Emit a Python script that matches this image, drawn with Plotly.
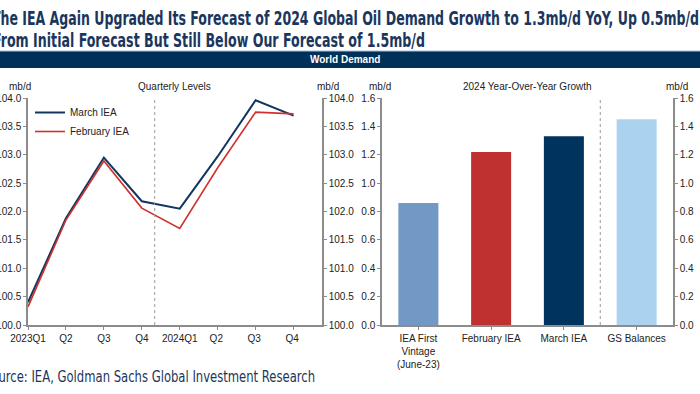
import plotly.graph_objects as go

W, H = 700, 394

quarters = ["2023Q1", "Q2", "Q3", "Q4", "2024Q1", "Q2 ", "Q3 ", "Q4 "]
march_iea = [100.40, 101.88, 102.95, 102.18, 102.05, 102.97, 103.96, 103.69]
february_iea = [100.32, 101.85, 102.89, 102.06, 101.70, 102.77, 103.75, 103.72]

bar_labels = ["IEA First<br>Vintage<br>(June-23)", "February IEA", "March IEA", "GS Balances"]
bar_values = [0.86, 1.22, 1.33, 1.45]
bar_colors = ["#7299c6", "#bf3131", "#00335e", "#abd3f0"]

left_ticks = [100.0, 100.5, 101.0, 101.5, 102.0, 102.5, 103.0, 103.5, 104.0]
right_ticks = [0.0, 0.2, 0.4, 0.6, 0.8, 1.0, 1.2, 1.4, 1.6]

RED = "#d0312d"
AX = "#8c8c8c"
TXT = "#222222"


def px(x):
    return x / W


def py(y):
    return 1 - y / H


fig = go.Figure()
xi = list(range(len(quarters)))
fig.add_trace(go.Scatter(x=xi, y=march_iea, mode="lines", name="March IEA",
                         line=dict(color="#11365f", width=2), xaxis="x", yaxis="y"))
fig.add_trace(go.Scatter(x=xi, y=february_iea, mode="lines", name="February IEA",
                         line=dict(color=RED, width=1.6), xaxis="x", yaxis="y"))
fig.add_trace(go.Scatter(x=[0], y=[100], mode="markers", marker=dict(opacity=0),
                         showlegend=False, hoverinfo="skip", xaxis="x", yaxis="y2"))

bx = list(range(len(bar_labels)))
fig.add_trace(go.Bar(x=bx, y=bar_values, marker=dict(color=bar_colors, line=dict(width=0)),
                     width=0.55, showlegend=False, xaxis="x2", yaxis="y3"))
fig.add_trace(go.Scatter(x=[0], y=[0], mode="markers", marker=dict(opacity=0),
                         showlegend=False, hoverinfo="skip", xaxis="x2", yaxis="y4"))

font_tick = dict(family="Liberation Sans, Arial, sans-serif", size=10, color=TXT)
yl_common = dict(showgrid=False, zeroline=False, showline=True, linecolor=AX, linewidth=1.5,
                 ticks="outside", ticklen=3, tickcolor=AX, tickfont=font_tick)

x0L, x1L = 28, 322
yt, yb = 98, 325
x0R, x1R = 382, 673

fig.update_layout(
    width=W, height=H, margin=dict(l=0, r=0, t=0, b=0, autoexpand=False),
    paper_bgcolor="white", plot_bgcolor="white",
    showlegend=True,
    legend=dict(x=px(30), y=py(98), xanchor="left", yanchor="top", bgcolor="rgba(0,0,0,0)",
                font=dict(family="Liberation Sans, Arial, sans-serif", size=10, color=TXT),
                tracegroupgap=0, itemwidth=30),
    xaxis=dict(domain=[px(x0L), px(x1L)], range=[0, 7.75], tickvals=xi, ticktext=quarters,
               showgrid=False, zeroline=False, showline=True, linecolor=AX, linewidth=1.5,
               ticks="outside", ticklen=3, tickcolor=AX, tickfont=font_tick, anchor="y"),
    yaxis=dict(domain=[py(yb), py(yt)], range=[100, 104], tickvals=left_ticks,
               tickformat=".1f", anchor="x", **yl_common),
    yaxis2=dict(domain=[py(yb), py(yt)], range=[100, 104], tickvals=left_ticks,
                tickformat=".1f", overlaying="y", side="right", anchor="x", **yl_common),
    xaxis2=dict(domain=[px(x0R), px(x1R)], range=[-0.5, 3.5], tickvals=bx, ticktext=bar_labels,
                showgrid=False, zeroline=False, showline=True, linecolor=AX, linewidth=1.5,
                ticks="outside", ticklen=3, tickcolor=AX, tickson="boundaries",
                tickfont=font_tick, anchor="y3"),
    yaxis3=dict(domain=[py(yb), py(yt)], range=[0, 1.6], tickvals=right_ticks,
                tickformat=".1f", anchor="x2", **yl_common),
    yaxis4=dict(domain=[py(yb), py(yt)], range=[0, 1.6], tickvals=right_ticks,
                tickformat=".1f", overlaying="y3", side="right", anchor="x2", **yl_common),
)

fig.add_shape(type="line", xref="x", yref="y domain", x0=3.34, x1=3.34, y0=0, y1=1,
              line=dict(color="#999999", width=1, dash="dot"))
fig.add_shape(type="line", xref="x2", yref="y3 domain", x0=2.5, x1=2.5, y0=0, y1=1,
              line=dict(color="#999999", width=1, dash="dot"))

fig.add_shape(type="rect", xref="paper", yref="paper", x0=0, x1=1, y0=py(68), y1=py(51),
              fillcolor="#003159", line=dict(width=0), layer="below")
fig.add_shape(type="line", xref="paper", yref="paper", x0=0, x1=1, y0=py(51), y1=py(51),
              line=dict(color="#a9bfd6", width=1))

title_font = dict(family="DejaVu Sans Condensed, Liberation Sans, sans-serif",
                  size=19, color="#1b365d")
small = dict(family="Liberation Sans, Arial, sans-serif", size=10, color=TXT)
ann = [
    dict(text="<b>The IEA Again Upgraded Its Forecast of 2024 Global Oil Demand Growth to 1.3mb/d YoY, Up 0.5mb/d</b>",
         x=px(-10), y=py(18), xanchor="left", align="left", yanchor="middle", font=title_font),
    dict(text="<b>From Initial Forecast But Still Below Our Forecast of 1.5mb/d</b>",
         x=px(-9), y=py(40), xanchor="left", align="left", yanchor="middle", font=title_font),
    dict(text="<b>World Demand</b>", x=px(345), y=py(59.5), xanchor="center", yanchor="middle",
         font=dict(family="Liberation Sans, Arial, sans-serif", size=10, color="white")),
    dict(text="Source: IEA, Goldman Sachs Global Investment Research",
         x=px(-18), y=py(377), xanchor="left", align="left", yanchor="middle",
         font=dict(family="DejaVu Sans Condensed, Liberation Sans, sans-serif", size=15, color="#1b365d")),
    dict(text="Quarterly Levels", x=px(174), y=py(86), xanchor="center", yanchor="middle", font=small),
    dict(text="2024 Year-Over-Year Growth", x=px(527), y=py(86), xanchor="center", yanchor="middle", font=small),
    dict(text="mb/d", x=px(20), y=py(86), xanchor="center", yanchor="middle", font=small),
    dict(text="mb/d", x=px(328), y=py(86), xanchor="center", yanchor="middle", font=small),
    dict(text="mb/d", x=px(380), y=py(86), xanchor="center", yanchor="middle", font=small),
    dict(text="mb/d", x=px(677), y=py(86), xanchor="center", yanchor="middle", font=small),
]
for a in ann:
    a.update(xref="paper", yref="paper", showarrow=False)
    fig.add_annotation(**a)

post = """
document.body.style.margin = '0';
document.body.style.overflow = 'hidden';
function fitTexts() {
  document.querySelectorAll('text.annotation-text').forEach(function (t) {
    var s = t.textContent || '';
    var L = null;
    if (s.indexOf('The IEA Again') === 0) L = 707;
    else if (s.indexOf('From Initial') === 0) L = 432;
    else if (s.indexOf('Source:') === 0) L = 331;
    if (L) { t.setAttribute('textLength', L); t.setAttribute('lengthAdjust', 'spacingAndGlyphs'); }
  });
}
fitTexts();
var gd = document.getElementById('{plot_id}');
if (gd && gd.on) { gd.on('plotly_afterplot', fitTexts); }
"""

fig.write_html("out.html", post_script=post, config={"displayModeBar": False})
